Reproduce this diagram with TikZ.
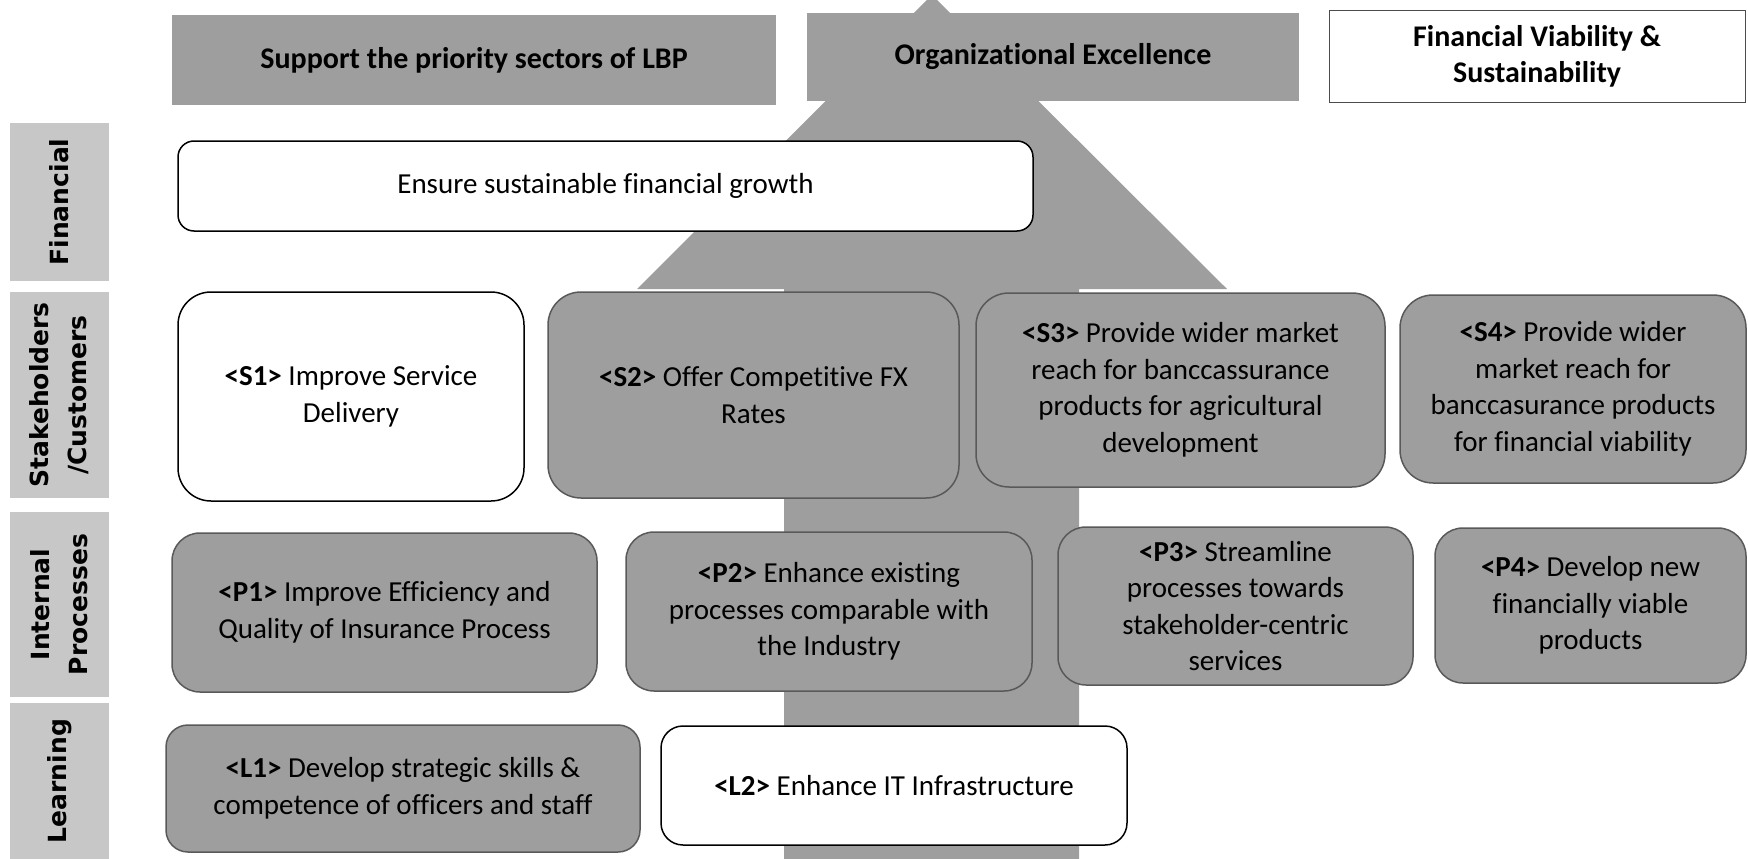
\documentclass[tikz,border=0pt]{standalone}
\usepackage{fontspec}
\setmainfont{Carlito}[Ligatures=NoCommon]
\newfontfamily\labfont{DejaVu Sans}
\usepackage{xcolor}
\usepackage{tikz}

\definecolor{boxgray}{gray}{0.62}
\definecolor{labgray}{gray}{0.78}

\begin{document}
\begin{tikzpicture}[x=1pt, y=-1pt,
    every node/.style={align=center, inner sep=0pt, text=black,
        font=\fontsize{29pt}{36.5pt}\selectfont},
    lab/.style={rotate=90, fill=labgray,
        font=\labfont\bfseries\fontsize{25pt}{38pt}\selectfont},
    topbox/.style={font=\bfseries\fontsize{30pt}{36pt}\selectfont},
    graybox/.style={draw=black!65, line width=1.5pt, fill=boxgray, rounded corners=#1},
    graybox/.default=28pt,
    whitebox/.style={draw=black, line width=1.5pt, fill=white, rounded corners=#1},
    whitebox/.default=28pt]

    % 画布大小
    \useasboundingbox (0,0) rectangle (1748,859);
    \clip (0,0) rectangle (1748,859);

    % 大箭头(放在最底层)
    \fill[boxgray] (932,-5) -- (1227,289) -- (1079,289) -- (1079,870)
        -- (784,870) -- (784,289) -- (637,289) -- cycle;

    % 左侧四个维度标签
    \node[lab, minimum width=158pt, minimum height=99pt] (labFin) at (59.5,202) {Financial};
    \node[lab, minimum width=206pt, minimum height=99pt] (labStake) at (59.5,395) {Stakeholders\\/Customers};
    \node[lab, minimum width=185pt, minimum height=99pt] (labProc) at (59.5,604.5) {Internal\\Processes};
    \node[lab, minimum width=156pt, minimum height=99pt] (labLearn) at (59.5,781) {Learning};

    % 顶部三个主题
    \node[topbox, fill=boxgray, minimum width=604pt, minimum height=90pt] (topSupport) at (474,60)
        {Support the priority sectors of LBP};
    \node[topbox, fill=boxgray, minimum width=492pt, minimum height=88pt] (topOrg) at (1053,57)
        {Organizational Excellence};
    \node[topbox, draw=black!70, line width=1pt, fill=white, minimum width=416pt, minimum height=91pt]
        (topFin) at (1537,56.5) {Financial Viability \&\\Sustainability};

    % 财务层
    \node[whitebox=16pt, minimum width=855pt, minimum height=90pt] (fin) at (605.5,186)
        {Ensure sustainable financial growth};

    % 利益相关者 / 客户层
    \node[whitebox=33pt, minimum width=346pt, minimum height=209pt] (s1) at (351,396.5)
        {\textbf{<S1>} Improve Service\\Delivery};
    \node[graybox=33pt, minimum width=411pt, minimum height=206pt] (s2) at (753.5,395)
        {\textbf{<S2>} Offer Competitive FX\\Rates};
    \node[graybox=33pt, minimum width=409pt, minimum height=194pt] (s3) at (1180.5,390)
        {\textbf{<S3>} Provide wider market\\reach for banccassurance\\products for agricultural\\development};
    \node[graybox=33pt, minimum width=346pt, minimum height=188pt] (s4) at (1573,389)
        {\textbf{<S4>} Provide wider\\market reach for\\banccasurance products\\for financial viability};

    % 内部流程层
    \node[graybox, minimum width=425pt, minimum height=159pt] (p1) at (384.5,612.5)
        {\textbf{<P1>} Improve Efficiency and\\Quality of Insurance Process};
    \node[graybox, minimum width=406pt, minimum height=159pt] (p2) at (829,611.5)
        {\textbf{<P2>} Enhance existing\\processes comparable with\\the Industry};
    \node[graybox, minimum width=355pt, minimum height=158pt] (p3) at (1235.5,606)
        {\textbf{<P3>} Streamline\\processes towards\\stakeholder-centric\\services};
    \node[graybox, minimum width=311pt, minimum height=155pt] (p4) at (1590.5,605.5)
        {\textbf{<P4>} Develop new\\financially viable\\products};

    % 学习层
    \node[graybox=22pt, minimum width=474pt, minimum height=127pt] (l1) at (403,788.5)
        {\textbf{<L1>} Develop strategic skills \&\\competence of officers and staff};
    \node[whitebox=22pt, minimum width=466pt, minimum height=119pt] (l2) at (894,785.5)
        {\textbf{<L2>} Enhance IT Infrastructure};
\end{tikzpicture}
\end{document}
